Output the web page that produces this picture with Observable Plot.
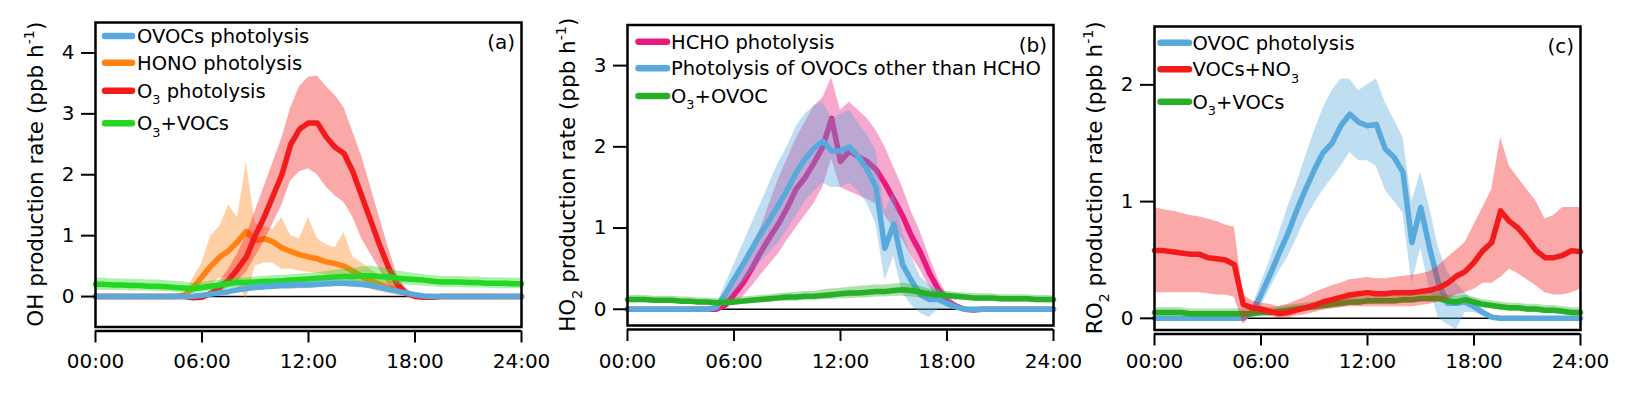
<!DOCTYPE html>
<html><head><meta charset="utf-8">
<script src="https://cdn.jsdelivr.net/npm/d3@7"></script>
<script src="https://cdn.jsdelivr.net/npm/@observablehq/plot@0.6"></script>
<style>
html,body{margin:0;padding:0;background:#fff;}
#wrap{position:relative;width:1628px;height:396px;overflow:hidden;background:#fff;}
.panel{position:absolute;top:0;}
.panel svg{background:transparent !important;}
</style></head><body><div id="wrap"></div>
<script>
// ---------- time axis (hours of day, 30-min steps) ----------
const hours = [0,0.5,1,1.5,2,2.5,3,3.5,4,4.5,5,5.5,6,6.5,7,7.5,8,8.5,9,9.5,10,10.5,11,11.5,12,12.5,13,13.5,14,14.5,15,15.5,16,16.5,17,17.5,18,18.5,19,19.5,20,20.5,21,21.5,22,22.5,23,23.5,24];
const xTicks = [0,6,12,18,24];
const xTickLabels = ["00:00","06:00","12:00","18:00","24:00"];

// ---------- panel (a): OH production ----------
const A_OVOC_v  = [0,0,0,0,0,0,0,0,0,0,0, 0.005,0.02,0.04,0.06,0.08,0.11,0.13,0.15,0.16,0.17,0.18,0.18,0.19,0.19,0.2,0.21,0.22,0.22,0.21,0.2,0.18,0.15,0.12,0.09,0.06,0.03,0.01, 0,0,0,0,0,0,0,0,0,0,0];
const A_OVOC_hi = [0,0,0,0,0,0,0,0,0,0,0, 0.01,0.04,0.07,0.1,0.13,0.16,0.19,0.21,0.22,0.23,0.24,0.24,0.25,0.25,0.26,0.27,0.28,0.28,0.27,0.26,0.24,0.21,0.17,0.13,0.09,0.05,0.02, 0,0,0,0,0,0,0,0,0,0,0];
const A_OVOC_lo = [0,0,0,0,0,0,0,0,0,0,0, 0,0,0.01,0.02,0.04,0.06,0.08,0.1,0.11,0.12,0.12,0.12,0.13,0.13,0.14,0.15,0.16,0.16,0.15,0.14,0.13,0.1,0.07,0.05,0.03,0.01,0, 0,0,0,0,0,0,0,0,0,0,0];

const A_HONO_v  = [0,0,0,0,0,0,0,0,0,0, 0.02,0.15,0.32,0.5,0.65,0.75,0.9,1.07,0.92,0.95, 0.9,0.8,0.74,0.69,0.65,0.62,0.57,0.54,0.5,0.42, 0.33,0.26,0.2,0.15,0.1,0.05,0.02,0, 0,0,0,0,0,0,0,0,0,0,0];
const A_HONO_hi = [0,0,0,0,0,0,0,0,0,0, 0.05,0.3,0.55,1.0,1.15,1.5,1.3,2.2,1.2,1.15, 1.1,1.3,1.0,0.95,1.3,0.95,0.85,0.8,1.05,0.65, 0.55,0.45,0.35,0.27,0.2,0.12,0.05,0.01, 0,0,0,0,0,0,0,0,0,0,0];
const A_HONO_lo = [0,0,0,0,0,0,0,0,0,0, 0,0.05,0.1,0.2,0.3,0.3,0.2,-0.05,0.5,0.55, 0.55,0.45,0.45,0.42,0.4,0.38,0.35,0.32,0.3,0.24, 0.17,0.12,0.08,0.05,0.02,0,-0.01,0, 0,0,0,0,0,0,0,0,0,0,0];

const A_O3_v  = [0,0,0,0,0,0,0,0,0,0,0, -0.02,-0.01,0.05,0.15,0.27,0.45,0.65,1.0,1.3,1.65, 2.0,2.5,2.75,2.85,2.85,2.62,2.45,2.35,2.05,1.65, 1.25,0.85,0.48,0.2,0.06,0,-0.01,-0.01, 0,0,0,0,0,0,0,0,0,0];
const A_O3_hi = [0,0,0,0,0,0,0,0,0,0,0, 0,0.02,0.1,0.25,0.45,0.7,1.0,1.4,1.8,2.2, 2.6,3.1,3.45,3.6,3.62,3.45,3.3,3.1,2.7,2.3, 1.8,1.3,0.8,0.35,0.12,0.03,0,0, 0,0,0,0,0,0,0,0,0,0];
const A_O3_lo = [0,0,0,0,0,0,0,0,0,0,0, -0.05,-0.04,0,0.07,0.15,0.25,0.4,0.65,0.9,1.2, 1.5,1.9,2.05,2.1,2.0,1.8,1.65,1.55,1.3,0.95, 0.7,0.45,0.2,0.05,0,-0.03,-0.03,-0.02, 0,0,0,0,0,0,0,0,0,0];

const A_GRN_v  = [0.2,0.2,0.19,0.19,0.18,0.18,0.17,0.17,0.16,0.15, 0.14,0.13,0.15,0.17,0.19,0.21,0.23,0.23,0.24,0.25, 0.25,0.26,0.27,0.28,0.29,0.3,0.31,0.32,0.33,0.33, 0.34,0.34,0.33,0.32,0.3,0.29,0.28,0.27,0.25,0.24, 0.24,0.24,0.23,0.23,0.22,0.22,0.22,0.21,0.21];
const A_GRN_hi = [0.3,0.3,0.29,0.29,0.28,0.28,0.27,0.27,0.26,0.25, 0.24,0.22,0.23,0.25,0.27,0.29,0.31,0.31,0.32,0.33, 0.34,0.35,0.36,0.37,0.38,0.39,0.41,0.43,0.45,0.46, 0.48,0.5,0.48,0.45,0.42,0.4,0.38,0.36,0.34,0.33, 0.33,0.33,0.32,0.32,0.31,0.31,0.31,0.3,0.3];
const A_GRN_lo = [0.1,0.1,0.1,0.1,0.09,0.09,0.09,0.08,0.08,0.07, 0.06,0.05,0.07,0.09,0.11,0.13,0.15,0.15,0.16,0.17, 0.17,0.18,0.18,0.19,0.2,0.2,0.21,0.21,0.22,0.22, 0.22,0.22,0.21,0.2,0.19,0.19,0.18,0.17,0.16,0.15, 0.15,0.15,0.14,0.14,0.14,0.13,0.13,0.13,0.13];

// ---------- panel (b): HO2 production ----------
const B_HCHO_v  = [0,0,0,0,0,0,0,0,0,0, 0,0.05,0.18,0.32,0.5,0.7,0.88,1.05,1.25,1.48, 1.62,1.8,2.0,2.35,1.82,1.95,1.88,1.82,1.72,1.55, 1.35,1.15,0.9,0.7,0.45,0.25,0.1,0.04,0,-0.01, 0,0,0,0,0,0,0,0,0];
const B_HCHO_hi = [0,0,0,0,0,0,0,0,0,0, 0.02,0.12,0.3,0.5,0.75,1.0,1.3,1.6,1.85,2.1, 2.3,2.5,2.6,2.85,2.45,2.55,2.45,2.35,2.2,2.0, 1.75,1.5,1.2,0.95,0.65,0.38,0.18,0.07,0.01,0, 0,0,0,0,0,0,0,0,0];
const B_HCHO_lo = [0,0,0,0,0,0,0,0,0,0, -0.02,0,0.07,0.15,0.28,0.42,0.55,0.68,0.85,1.0, 1.15,1.3,1.5,1.85,1.5,1.45,1.4,1.35,1.3,1.15, 1.0,0.85,0.65,0.48,0.28,0.12,0.03,0,-0.02,-0.02, 0,0,0,0,0,0,0,0,0];

const B_OVOC_v  = [0,0,0,0,0,0,0,0,0,0, 0.02,0.18,0.37,0.55,0.74,0.93,1.1,1.28,1.47,1.68, 1.85,1.98,2.07,1.95,1.95,2.0,1.88,1.72,1.5,0.75, 1.05,0.55,0.35,0.18,0.12,0.12,0.07,0.03,0,0, 0,0,0,0,0,0,0,0,0];
const B_OVOC_hi = [0,0,0,0,0,0,0,0,0,0, 0.05,0.3,0.55,0.8,1.05,1.3,1.55,1.8,2.0,2.25, 2.4,2.5,2.55,2.35,2.4,2.45,2.3,2.15,1.95,1.2, 1.45,0.95,0.65,0.4,0.3,0.25,0.15,0.06,0.01,0, 0,0,0,0,0,0,0,0,0];
const B_OVOC_lo = [0,0,0,0,0,0,0,0,0,0, 0,0.06,0.2,0.32,0.45,0.58,0.7,0.82,0.98,1.15, 1.32,1.45,1.55,1.5,1.5,1.55,1.45,1.3,1.05,0.35, 0.65,0.2,0.05,-0.05,-0.1,0,0,0,0,0, 0,0,0,0,0,0,0,0,0];

const B_GRN_v  = [0.12,0.12,0.12,0.11,0.11,0.11,0.1,0.1,0.09,0.09, 0.08,0.08,0.09,0.1,0.11,0.12,0.13,0.14,0.15,0.15, 0.16,0.16,0.17,0.18,0.19,0.2,0.2,0.21,0.22,0.22, 0.23,0.24,0.23,0.21,0.19,0.18,0.17,0.16,0.15,0.14, 0.14,0.14,0.13,0.13,0.13,0.13,0.12,0.12,0.12];
const B_GRN_hi = [0.17,0.17,0.17,0.16,0.16,0.16,0.15,0.15,0.14,0.14, 0.13,0.13,0.14,0.15,0.16,0.17,0.18,0.19,0.2,0.21, 0.22,0.22,0.24,0.25,0.26,0.27,0.28,0.29,0.3,0.3, 0.31,0.32,0.31,0.28,0.25,0.24,0.22,0.21,0.2,0.19, 0.19,0.19,0.18,0.18,0.18,0.18,0.17,0.17,0.17];
const B_GRN_lo = [0.08,0.08,0.08,0.07,0.07,0.07,0.06,0.06,0.05,0.05, 0.04,0.04,0.05,0.06,0.07,0.08,0.09,0.1,0.1,0.1, 0.11,0.11,0.12,0.12,0.13,0.13,0.14,0.14,0.15,0.15, 0.16,0.16,0.15,0.14,0.13,0.13,0.12,0.11,0.11,0.1, 0.1,0.1,0.09,0.09,0.09,0.09,0.08,0.08,0.08];

// ---------- panel (c): RO2 production ----------
const C_OVOC_v  = [0,0,0,0,0,0,0,0,0,0,0, 0.05,0.2,0.37,0.55,0.72,0.92,1.1,1.27,1.42,1.5, 1.65,1.75,1.68,1.65,1.66,1.45,1.38,1.25,0.65,0.95, 0.6,0.3,0.13,0.13,0.14,0.1,0.05,0.01, 0,0,0,0,0,0,0,0,0,0];
const C_OVOC_hi = [0,0,0,0,0,0,0,0,0,0,0, 0.1,0.3,0.5,0.72,0.95,1.15,1.38,1.6,1.8,1.95, 2.05,2.05,1.95,2.0,2.05,1.85,1.7,1.55,1.0,1.25, 0.95,0.6,0.4,0.3,0.22,0.15,0.08,0.02, 0,0,0,0,0,0,0,0,0,0];
const C_OVOC_lo = [0,0,0,0,0,0,0,0,0,0,0, 0,0.1,0.25,0.4,0.52,0.68,0.85,0.98,1.1,1.2, 1.3,1.42,1.35,1.35,1.3,1.1,1.0,0.9,0.3,0.6, 0.25,0,-0.05,-0.1,0.05,0.05,0.02,0, 0,0,0,0,0,0,0,0,0,0];

const C_NO3_v  = [0.58,0.58,0.57,0.56,0.55,0.55,0.52,0.51,0.5,0.46, 0.12,0.09,0.08,0.06,0.04,0.05,0.07,0.09,0.11,0.14, 0.16,0.18,0.2,0.21,0.22,0.21,0.21,0.22,0.22,0.22, 0.23,0.24,0.26,0.3,0.36,0.4,0.48,0.58,0.65,0.92, 0.83,0.77,0.68,0.58,0.52,0.52,0.54,0.58,0.57];
const C_NO3_hi = [0.95,0.93,0.92,0.9,0.88,0.87,0.85,0.83,0.8,0.78, 0.2,0.15,0.13,0.12,0.1,0.12,0.15,0.18,0.22,0.25, 0.28,0.3,0.33,0.34,0.35,0.34,0.34,0.35,0.36,0.37, 0.38,0.4,0.45,0.52,0.58,0.65,0.8,0.95,1.1,1.55, 1.3,1.2,1.1,1.0,0.85,0.88,0.95,0.95,0.95];
const C_NO3_lo = [0.22,0.22,0.22,0.22,0.22,0.22,0.21,0.2,0.2,0.18, -0.05,0.03,0.03,0.02,0,0,0.02,0.03,0.05,0.07, 0.08,0.09,0.1,0.1,0.1,0.1,0.1,0.1,0.1,0.1, 0.11,0.12,0.14,0.16,0.2,0.22,0.25,0.3,0.3,0.35, 0.42,0.38,0.33,0.28,0.22,0.2,0.2,0.22,0.25];

const C_GRN_v  = [0.05,0.05,0.05,0.05,0.04,0.04,0.04,0.04,0.04,0.04, 0.04,0.04,0.05,0.05,0.06,0.07,0.08,0.09,0.1,0.11, 0.12,0.13,0.14,0.14,0.15,0.15,0.15,0.15,0.16,0.16, 0.17,0.17,0.17,0.15,0.14,0.16,0.14,0.12,0.11,0.1, 0.09,0.09,0.08,0.08,0.07,0.07,0.06,0.05,0.05];
const C_GRN_hi = [0.09,0.09,0.09,0.09,0.08,0.08,0.08,0.08,0.08,0.08, 0.08,0.08,0.09,0.09,0.1,0.11,0.12,0.13,0.14,0.15, 0.16,0.17,0.18,0.18,0.19,0.19,0.19,0.2,0.21,0.21, 0.22,0.22,0.22,0.2,0.19,0.2,0.18,0.16,0.15,0.14, 0.13,0.13,0.12,0.12,0.11,0.11,0.1,0.09,0.09];
const C_GRN_lo = [0.02,0.02,0.02,0.02,0.01,0.01,0.01,0.01,0.01,0.01, 0.01,0.01,0.02,0.02,0.03,0.04,0.05,0.06,0.07,0.08, 0.09,0.1,0.11,0.11,0.12,0.12,0.12,0.12,0.13,0.13, 0.14,0.14,0.14,0.12,0.11,0.13,0.11,0.09,0.08,0.07, 0.06,0.06,0.05,0.05,0.04,0.04,0.03,0.02,0.02];

// ---------- colours ----------
const BLUE = "#5aa9dc", ORANGE = "#ff8212", RED = "#f21a1a", LIME = "#22d822", GREEN = "#27b027", PINK = "#e8197f";
const FONT = "DejaVu Sans";

function table(v, lo, hi) { return hours.map((t, i) => ({t, v: v[i], lo: lo[i], hi: hi[i]})); }

const panels = [
  { left: 0, width: 540, ml: 95, mr: 19, mt: 22, mb: 69.5, ydom: [-0.5, 4.5], yticks: [0,1,2,3,4],
    title: "OH production rate (ppb h^{-1})", tag: "(a)",
    leg: {s0: 10, s1: 37, tx: 42},
    series: [
      {name: "OVOCs photolysis", color: BLUE, v: A_OVOC_v, lo: A_OVOC_lo, hi: A_OVOC_hi, row: 36},
      {name: "HONO photolysis", color: ORANGE, v: A_HONO_v, lo: A_HONO_lo, hi: A_HONO_hi, row: 62.7},
      {name: "O_{3} photolysis", color: RED, v: A_O3_v, lo: A_O3_lo, hi: A_O3_hi, row: 90.7},
      {name: "O_{3}+VOCs", color: LIME, v: A_GRN_v, lo: A_GRN_lo, hi: A_GRN_hi, row: 123.3}
    ], order: [1, 2, 3, 0]},
  { left: 540, width: 540, ml: 87, mr: 27, mt: 24.5, mb: 71, ydom: [-0.2, 3.5], yticks: [0,1,2,3],
    title: "HO_{2} production rate (ppb h^{-1})", tag: "(b)",
    leg: {s0: 11.5, s1: 40, tx: 44},
    series: [
      {name: "HCHO photolysis", color: PINK, v: B_HCHO_v, lo: B_HCHO_lo, hi: B_HCHO_hi, row: 41.7},
      {name: "Photolysis of OVOCs other than HCHO", color: BLUE, v: B_OVOC_v, lo: B_OVOC_lo, hi: B_OVOC_hi, row: 68.3},
      {name: "O_{3}+OVOC", color: GREEN, v: B_GRN_v, lo: B_GRN_lo, hi: B_GRN_hi, row: 96}
    ]},
  { left: 1080, width: 548, ml: 74, mr: 48, mt: 26, mb: 66.5, ydom: [-0.1, 2.5], yticks: [0,1,2],
    title: "RO_{2} production rate (ppb h^{-1})", tag: "(c)",
    leg: {s0: 6.5, s1: 35, tx: 38.5},
    series: [
      {name: "OVOC photolysis", color: BLUE, v: C_OVOC_v, lo: C_OVOC_lo, hi: C_OVOC_hi, row: 42.7},
      {name: "VOCs+NO_{3}", color: RED, v: C_NO3_v, lo: C_NO3_lo, hi: C_NO3_hi, row: 69.3},
      {name: "O_{3}+VOCs", color: GREEN, v: C_GRN_v, lo: C_GRN_lo, hi: C_GRN_hi, row: 101.7}
    ], order: [0, 2, 1]}
];

function rich(sel, str, base) {
  const parts = str.split(/(_\{[^}]*\}|\^\{[^}]*\})/).filter(s => s.length);
  let shift = 0;
  for (const p of parts) {
    let t = p, dy = 0, size = null;
    if (p.startsWith("_{")) { t = p.slice(2, -1); dy = base * 0.32; size = base * 0.66; }
    else if (p.startsWith("^{")) { t = p.slice(2, -1); dy = -base * 0.42; size = base * 0.66; }
    const ts = sel.append("tspan").text(t).attr("dy", dy - shift);
    if (size) ts.attr("font-size", size);
    shift = dy;
  }
}

const wrap = document.getElementById("wrap");
const H = 396;
for (const P of panels) {
  const marks = [Plot.ruleY([0], {stroke: "black", strokeWidth: 1.5})];
  const order = P.order || P.series.map((_, i) => i);
  for (const i of order) {
    const s = P.series[i];
    const data = table(s.v, s.lo, s.hi);
    marks.push(Plot.areaY(data, {x: "t", y1: "lo", y2: "hi", fill: s.color, fillOpacity: 0.38}));
    marks.push(Plot.lineY(data, {x: "t", y: "v", stroke: s.color, strokeWidth: 5.5, strokeLinejoin: "round"}));
  }
  const frameBottom = H - P.mb;
  const pad = 367.5 - (frameBottom + 4 + 12) - 14.2;
  marks.push(Plot.frame({stroke: "black", strokeWidth: 2.5}));
  marks.push(Plot.axisY({ticks: P.yticks, tickSize: 14, tickPadding: 7, strokeWidth: 2, label: null, tickFormat: d => String(d)}));
  marks.push(Plot.axisX({ticks: xTicks, tickSize: 12, tickPadding: pad, dy: 4, strokeWidth: 2, label: null,
    tickFormat: d => xTickLabels[xTicks.indexOf(d)]}));
  marks.push(Plot.ruleY([P.ydom[0]], {dy: 4, stroke: "black", strokeWidth: 2.5}));

  const svg = Plot.plot({
    width: P.width, height: H,
    marginLeft: P.ml, marginRight: P.mr, marginTop: P.mt, marginBottom: P.mb,
    x: {domain: [0, 24]},
    y: {domain: P.ydom},
    style: {fontFamily: FONT, fontSize: "20px", color: "black", background: "transparent", overflow: "visible"},
    marks
  });
  const g = d3.select(svg).append("g").attr("font-family", FONT).attr("fill", "black").attr("text-anchor", "start");
  // legend
  for (const s of P.series) {
    g.append("line").attr("x1", P.ml + P.leg.s0).attr("x2", P.ml + P.leg.s1)
      .attr("y1", s.row).attr("y2", s.row).attr("stroke", s.color).attr("stroke-width", 6.5).attr("stroke-linecap", "round");
    const t = g.append("text").attr("x", P.ml + P.leg.tx).attr("y", s.row + 7).attr("font-size", 19.5).attr("text-anchor", "start");
    rich(t, s.name, 19.5);
  }
  // panel tag
  g.append("text").attr("x", P.width - P.mr - 6).attr("y", P.mt + 27).attr("text-anchor", "end").attr("font-size", 20).text(P.tag);
  // y axis title
  const cy = (P.mt + (H - P.mb)) / 2;
  const tt = g.append("text").attr("transform", `translate(${P.ml - 52},${cy}) rotate(-90)`)
    .attr("text-anchor", "middle").attr("font-size", 21.5);
  rich(tt, P.title, 21.5);

  const div = document.createElement("div");
  div.className = "panel";
  div.style.left = P.left + "px";
  div.style.width = P.width + "px";
  div.appendChild(svg);
  wrap.appendChild(div);
}
</script>
</body></html>
